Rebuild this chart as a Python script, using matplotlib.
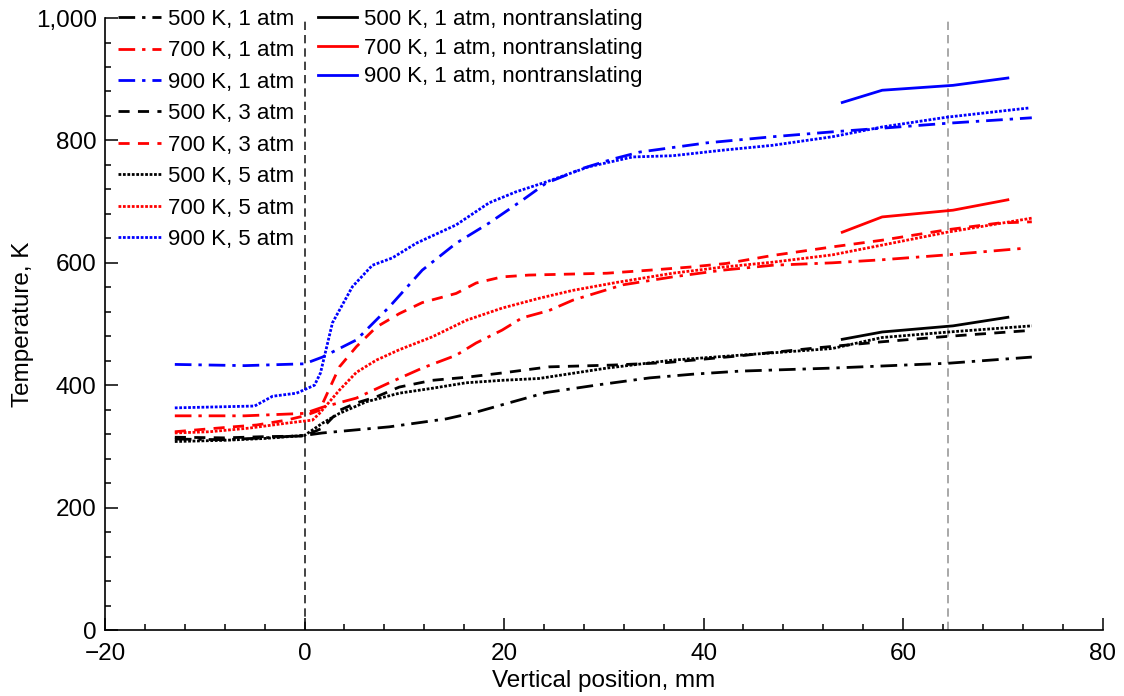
import matplotlib
matplotlib.use("Agg")
import matplotlib.pyplot as plt
from matplotlib.ticker import MultipleLocator, FuncFormatter

plt.rcParams['font.family'] = ['Liberation Sans', 'DejaVu Sans']

# ---------------- data ----------------
x_500_1 = [-13, -8, -4, 0, 1.8, 8.5, 14.2, 17.2, 19.8, 24.2, 29.6, 34.6, 38.9, 43.6, 52.9, 64.6, 72.9]
t_500_1 = [312, 311, 314, 318, 322, 332, 345, 356, 368, 388, 401, 412, 418, 423, 428, 436, 446]

x_700_1 = [-13, -6, 0, 1.8, 5.2, 8.5, 11.8, 15.2, 17.2, 19.8, 21.8, 24.5, 26.9, 31.9, 36.9, 41.9, 46.9, 52.9, 57.9, 64.4, 72.3]
t_700_1 = [350, 350, 354, 364, 379, 404, 428, 449, 469, 490, 510, 522, 539, 564, 577, 588, 596, 600, 605, 613, 624]

x_900_1 = [-13, -6, 0, 1.8, 5.2, 8.5, 11.8, 15.2, 18.5, 21.9, 24.2, 28, 31, 33.6, 40.3, 46.9, 52.9, 57.9, 64.4, 72.9]
t_900_1 = [434, 432, 435, 446, 474, 528, 588, 632, 665, 703, 730, 755, 770, 781, 796, 806, 814, 820, 828, 837]

x_500_3 = [-13, -8, -4, 0, 1.8, 3.5, 5.2, 7.2, 9.5, 12.8, 16.2, 19.8, 24.5, 31, 36.3, 43.6, 51.3, 57.9, 64.6, 72.3]
t_500_3 = [315, 314, 316, 317, 330, 359, 371, 381, 397, 408, 413, 420, 430, 433, 437, 448, 461, 471, 480, 489]

x_700_3 = [-13, -7.2, -4.8, -1.8, 0, 1.5, 3.5, 5.2, 7.2, 9.5, 11.8, 15.2, 17.2, 19.8, 22.5, 30.3, 34.6, 38.6, 42.3, 46.9, 52.9, 57.9, 64.4, 69.6, 72.9]
t_700_3 = [324, 332, 335, 343, 350, 359, 430, 463, 495, 517, 535, 550, 567, 577, 580, 583, 588, 593, 599, 612, 626, 637, 654, 665, 667]

x_500_5 = [-13, -8, -4, 0, 1.8, 3.5, 6.2, 9.5, 12.8, 16.2, 19.8, 23.5, 30.3, 36.9, 43.6, 52.9, 57.9, 64.6, 72.9]
t_500_5 = [308, 310, 313, 318, 338, 354, 373, 387, 395, 404, 408, 411, 428, 441, 449, 460, 478, 487, 497]

x_700_5 = [-13, -9.5, -5.5, -1.8, 0.8, 1.5, 3.5, 5.2, 7.2, 9.5, 12.8, 16.2, 19.8, 23.5, 26.9, 31.3, 36.9, 41.9, 46.9, 52.9, 57.9, 64.4, 72.9]
t_700_5 = [322, 324, 330, 338, 343, 354, 392, 421, 441, 458, 479, 506, 526, 542, 555, 568, 583, 593, 601, 613, 629, 650, 673]

x_900_5 = [-13, -5, -3.2, -0.8, 1.0, 1.6, 2.8, 4.8, 6.8, 8.8, 11.2, 15.2, 18.5, 21.2, 24.2, 28.5, 32.9, 36.9, 41.9, 46.9, 52.9, 57.9, 64.4, 72.6]
t_900_5 = [363, 366, 382, 387, 400, 420, 502, 561, 596, 608, 632, 662, 698, 716, 732, 757, 773, 775, 784, 792, 806, 822, 838, 853]

x_nt = [53.9, 57.9, 65.0, 70.5]
t_500_nt = [475, 487, 497, 511]
t_700_nt = [650, 675, 686, 703]
t_900_nt = [862, 882, 890, 902]

labels_left = ['500 K, 1 atm', '700 K, 1 atm', '900 K, 1 atm', '500 K, 3 atm',
               '700 K, 3 atm', '500 K, 5 atm', '700 K, 5 atm', '900 K, 5 atm']
labels_right = ['500 K, 1 atm, nontranslating', '700 K, 1 atm, nontranslating',
                '900 K, 1 atm, nontranslating']

# ---------------- plot ----------------
fig = plt.figure(figsize=(11.24, 6.96), dpi=100)
ax = fig.add_axes([0.0934, 0.0948, 0.8876, 0.8793])

BLUE = '#0000ff'
RED = '#ff0000'
BLACK = '#000000'
lw = 2.0
dashdot = (6, 2.5, 1.2, 2.5)
dashed = (4, 3)
dotted = (1, 0.6)

left_series = [
    (x_500_1, t_500_1, BLACK, dashdot),
    (x_700_1, t_700_1, RED, dashdot),
    (x_900_1, t_900_1, BLUE, dashdot),
    (x_500_3, t_500_3, BLACK, dashed),
    (x_700_3, t_700_3, RED, dashed),
    (x_500_5, t_500_5, BLACK, dotted),
    (x_700_5, t_700_5, RED, dotted),
    (x_900_5, t_900_5, BLUE, dotted),
]
h_left = []
for (xs, ts, c, d), lab in zip(left_series, labels_left):
    ln, = ax.plot(xs, ts, color=c, lw=lw, dashes=d, label=lab)
    h_left.append(ln)

h_right = []
for ts, c, lab in zip([t_500_nt, t_700_nt, t_900_nt], [BLACK, RED, BLUE], labels_right):
    ln, = ax.plot(x_nt, ts, color=c, lw=lw, label=lab)
    h_right.append(ln)

ax.axvline(0, color='#222222', lw=1.2, dashes=(5, 3), zorder=0)
ax.axvline(64.5, color='#999999', lw=1.2, dashes=(5, 3), zorder=0)

ax.set_xlim(-20, 80)
ax.set_ylim(0, 1000)
ax.spines['top'].set_visible(False)
ax.spines['right'].set_visible(False)
ax.spines['left'].set_linewidth(1.2)
ax.spines['bottom'].set_linewidth(1.2)
ax.xaxis.set_major_locator(MultipleLocator(20))
ax.xaxis.set_minor_locator(MultipleLocator(4))
ax.yaxis.set_major_locator(MultipleLocator(200))
ax.yaxis.set_minor_locator(MultipleLocator(40))
ax.tick_params(which='major', direction='in', length=9, width=1.1, labelsize=17.5)
ax.tick_params(axis='x', which='major', pad=9)
ax.tick_params(axis='y', which='major', pad=6)
ax.tick_params(which='minor', direction='in', length=4.5, width=1.1)
ax.xaxis.set_major_formatter(FuncFormatter(lambda v, p: f"{int(v):,}".replace('-', '\u2212')))
ax.yaxis.set_major_formatter(FuncFormatter(lambda v, p: f"{int(v):,}"))
ax.set_xlabel('Vertical position, mm', fontsize=17.5, labelpad=4)
ax.set_ylabel('Temperature, K', fontsize=17.5, labelpad=1)

leg1 = ax.legend(handles=h_left, loc='upper left', bbox_to_anchor=(0.013, 1.015),
                 frameon=False, fontsize=16, handlelength=1.95, handletextpad=0.3,
                 labelspacing=0.47, borderpad=0, borderaxespad=0)
ax.add_artist(leg1)
ax.legend(handles=h_right, loc='upper left', bbox_to_anchor=(0.2135, 1.015),
          frameon=False, fontsize=16, handlelength=1.75, handletextpad=0.3,
          labelspacing=0.35, borderpad=0, borderaxespad=0)

fig.savefig('out.png', dpi=100)
